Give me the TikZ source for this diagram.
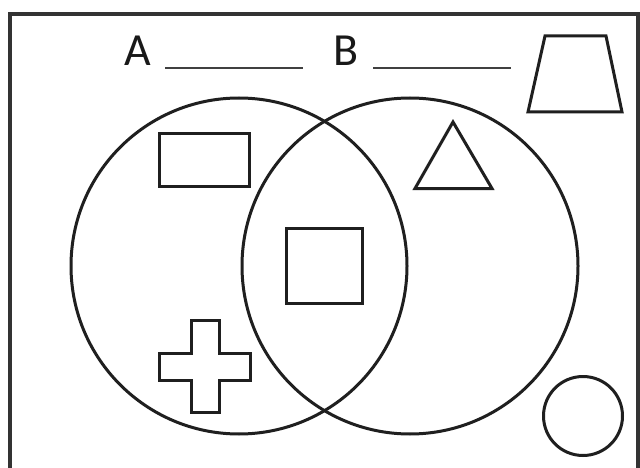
\documentclass[tikz,border=0pt]{standalone}
\usepackage{fontspec}
\setmainfont{Carlito}
\tikzset{
  shape line/.style={draw=black!88, line width=3pt, line join=miter},
  frame line/.style={draw=black!80, line width=4.5pt},
  blank line/.style={draw=black!75, line width=2.2pt},
  letter/.style={inner sep=0pt, anchor=base west, font=\fontsize{46pt}{50pt}\selectfont, text=black!90}
}
\begin{document}
\begin{tikzpicture}[x=1pt,y=-1pt]
\useasboundingbox (0,0) rectangle (640,468);
\fill[white] (0,0) rectangle (640,468);
% frame
\draw[frame line] (10,500) -- (10,14) -- (638,14) -- (638,500);
% labels
\node[letter] (labA) at (124,66) {A};
\node[letter] (labB) at (333,66) {B};
\coordinate (a1) at (165,68); \coordinate (a2) at (303,68);
\coordinate (b1) at (373,68); \coordinate (b2) at (511,68);
\draw[blank line] (a1) -- (a2);
\draw[blank line] (b1) -- (b2);
% Venn circles
\node[shape line, circle, minimum size=336pt, inner sep=0pt] (setA) at (239,266) {};
\node[shape line, circle, minimum size=336pt, inner sep=0pt] (setB) at (410,266) {};
% shapes
\draw[shape line] (159.5,133.5) rectangle (249.5,186.5);
\draw[shape line] (286.5,228.5) rectangle (362.5,303.5);
\draw[shape line] (191,320) -- (219,320) -- (219,353) -- (250.5,353) -- (250.5,380) -- (219,380)
  -- (219,412) -- (191,412) -- (191,380) -- (159,380) -- (159,353) -- (191,353) -- cycle;
\draw[shape line] (453,122) -- (492,188.5) -- (415,188.5) -- cycle;
\draw[shape line] (545,36) -- (606,36) -- (622,112) -- (528,112) -- cycle;
\node[shape line, circle, minimum size=79pt, inner sep=0pt] (small) at (583,416) {};
\end{tikzpicture}
\end{document}
